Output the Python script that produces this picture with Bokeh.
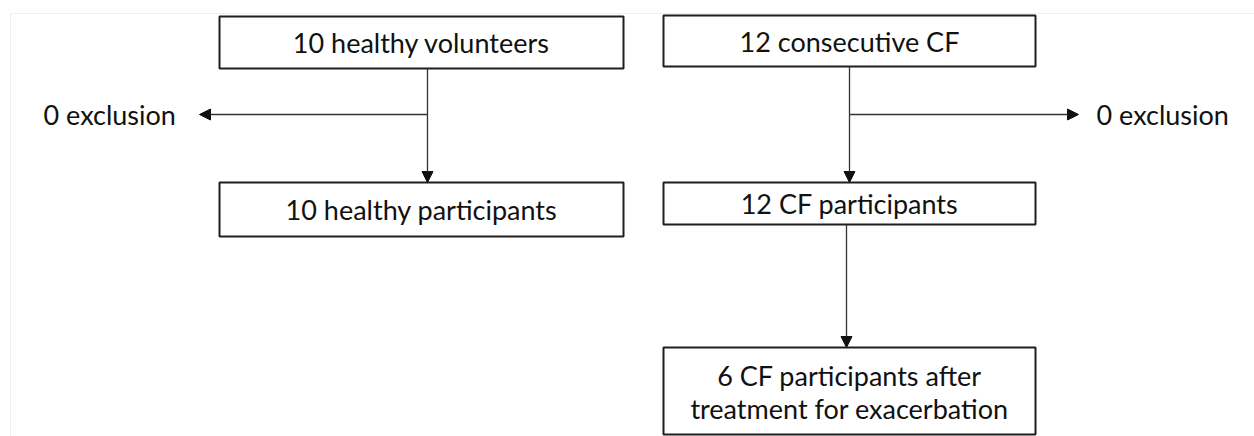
from bokeh.plotting import figure
from bokeh.models import Range1d, Arrow, NormalHead, ColumnDataSource
from bokeh.core.properties import value
from bokeh.embed import file_html
from bokeh.resources import INLINE

# Flowchart content
box_labels = ["10 healthy volunteers", "10 healthy participants",
              "12 consecutive CF", "12 CF participants",
              "6 CF participants after\ntreatment for exacerbation"]
side_labels = ["0 exclusion", "0 exclusion"]

# Layout (image pixel coordinates)
box_left = [219, 219, 663, 663, 663]
box_right = [623, 623, 1035, 1035, 1035]
box_top = [16, 182, 15, 182, 347]
box_bottom = [68, 236, 66, 224, 434]

W, H = 1254, 436
p = figure(width=W, height=H, output_backend="svg", toolbar_location=None,
           x_range=Range1d(0, W), y_range=Range1d(H, 0),
           min_border=0, outline_line_color=None)
p.axis.visible = False
p.grid.visible = False
p.background_fill_color = "white"
p.border_fill_color = "white"

# faint frame of the original figure
p.segment(x0=[10, 10], y0=[13, 13], x1=[1254, 10], y1=[13, 436],
          line_color="#f0f0f0", line_width=1)

# boxes
src = ColumnDataSource(dict(left=box_left, right=box_right, top=box_top, bottom=box_bottom))
p.quad(left="left", right="right", top="top", bottom="bottom", source=src,
       fill_color="white", line_color="#1e1e1e", line_width=2)

# box texts
font = value("Lato")
fs = "27px"
cx = [(l + r) / 2 for l, r in zip(box_left, box_right)]
single = [0, 1, 2, 3]
p.text(x=[cx[i] for i in single],
       y=[(box_top[i] + box_bottom[i]) / 2 for i in single],
       text=[box_labels[i] for i in single],
       text_font=font, text_font_size=fs, text_align="center",
       text_baseline="middle", text_color="#111111")
lines5 = box_labels[4].split("\n")
p.text(x=[cx[4], cx[4]], y=[375, 408], text=lines5,
       text_font=font, text_font_size=fs, text_align="center",
       text_baseline="middle", text_color="#111111")

# side labels
p.text(x=[43, 1096], y=[114, 114], text=side_labels,
       text_font=font, text_font_size=fs, text_align="left",
       text_baseline="middle", text_color="#111111")

# connectors
p.segment(x0=[427, 849], y0=[68, 66], x1=[427, 849], y1=[114, 114],
          line_color="#333333", line_width=1.3)

def arrow(x0, y0, x1, y1):
    p.add_layout(Arrow(x_start=x0, y_start=y0, x_end=x1, y_end=y1,
                       line_color="#333333", line_width=1.3,
                       end=NormalHead(size=11, fill_color="#111111",
                                      line_color="#111111", line_width=1)))

arrow(427, 114, 427, 182)
arrow(427, 114, 199, 114)
arrow(849, 114, 849, 182)
arrow(849, 114, 1078, 114)
arrow(846, 224, 846, 347)

open("out.html", "w").write(file_html(p, INLINE))
